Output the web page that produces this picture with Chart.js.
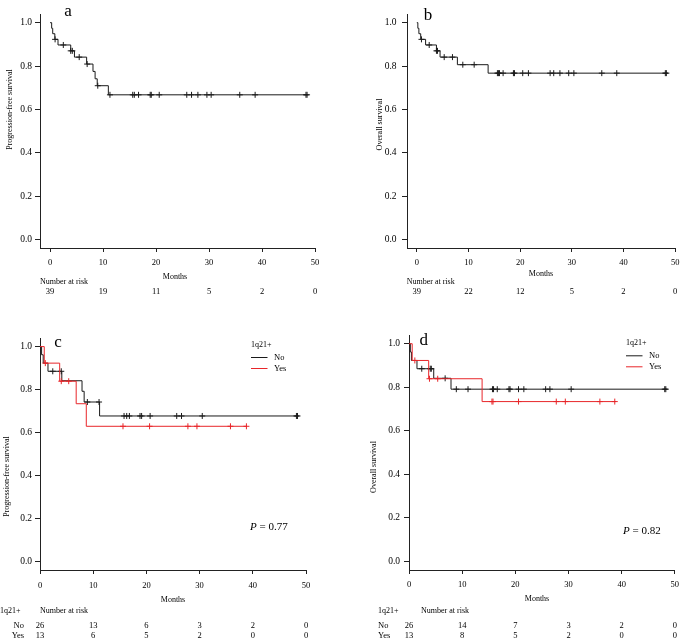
<!DOCTYPE html>
<html><head><meta charset="utf-8">
<script src="https://cdn.jsdelivr.net/npm/chart.js@4.4.0/dist/chart.umd.min.js"></script>
<style>
body{margin:0;background:#fff;width:685px;height:639px;position:relative;overflow:hidden}
canvas{position:absolute}
</style></head><body>
<canvas id="ca" width="340" height="320" style="left:0;top:0"></canvas>
<canvas id="cb" width="345" height="320" style="left:340px;top:0"></canvas>
<canvas id="cc" width="340" height="319" style="left:0;top:320px"></canvas>
<canvas id="cd" width="345" height="319" style="left:340px;top:320px"></canvas>
<script>
// ---------- data ----------
const xTickValues = [0, 10, 20, 30, 40, 50];
const yTickValues = [0, 0.2, 0.4, 0.6, 0.8, 1.0];
const riskTimes = [0, 10, 20, 30, 40, 50];

// Panel a: PFS, all patients
const pfsAllTimes  = [0, 0.3, 0.5, 0.9, 1.5, 3.9, 4.6, 6.9, 8.1, 8.5, 8.9, 11.0, 48.6];
const pfsAllSurv   = [1.0, 0.974, 0.949, 0.923, 0.897, 0.870, 0.841, 0.809, 0.775, 0.741, 0.709, 0.667, 0.667];
const pfsAllCensor = [0.95, 2.5, 3.9, 4.2, 5.5, 7.0, 9.0, 11.3, 15.6, 15.9, 16.7, 18.9, 19.1, 20.6, 25.8, 26.7, 27.9, 29.6, 30.4, 35.8, 38.7, 48.3, 48.5];
const pfsAllRisk   = [39, 19, 11, 5, 2, 0];

// Panel b: OS, all patients
const osAllTimes  = [0, 0.2, 0.4, 0.75, 1.7, 3.8, 4.5, 7.85, 13.8, 48.6];
const osAllSurv   = [1.0, 0.974, 0.949, 0.923, 0.897, 0.870, 0.841, 0.806, 0.767, 0.767];
const osAllCensor = [0.9, 2.4, 3.8, 4.0, 5.3, 6.9, 8.9, 11.1, 15.6, 15.8, 16.0, 16.7, 18.7, 18.9, 20.5, 21.6, 25.8, 26.5, 27.7, 29.4, 30.4, 35.8, 38.7, 48.1, 48.3];
const osAllRisk   = [39, 22, 12, 5, 2, 0];

// Panel c: PFS by 1q21+
const pfsNoTimes   = [0, 0.3, 0.6, 1.5, 4.1, 7.9, 8.3, 11.2, 48.6];
const pfsNoSurv    = [1.0, 0.962, 0.923, 0.885, 0.841, 0.792, 0.742, 0.677, 0.677];
const pfsNoCensor  = [2.4, 4.0, 8.9, 11.1, 15.8, 16.3, 16.8, 18.8, 19.1, 20.7, 25.7, 26.6, 30.5, 48.2, 48.4];
const pfsYesTimes  = [0, 0.8, 3.7, 6.8, 8.7, 38.9];
const pfsYesSurv   = [1.0, 0.923, 0.839, 0.734, 0.629, 0.629];
const pfsYesCensor = [1.0, 4.0, 5.4, 15.6, 20.6, 27.8, 29.5, 35.8, 38.8];
const pfsNoRisk    = [26, 13, 6, 3, 2, 0];
const pfsYesRisk   = [13, 6, 5, 2, 0, 0];
const pfsP = "0.77";

// Panel d: OS by 1q21+
const osNoTimes   = [0, 0.25, 0.45, 1.5, 4.65, 7.9, 48.6];
const osNoSurv    = [1.0, 0.962, 0.923, 0.885, 0.841, 0.791, 0.791];
const osNoCensor  = [2.4, 4.0, 4.2, 6.8, 8.9, 11.1, 15.7, 15.9, 16.6, 18.8, 19.0, 20.6, 21.6, 25.7, 26.5, 30.5, 48.1, 48.3];
const osYesTimes  = [0, 0.6, 3.7, 13.75, 38.9];
const osYesSurv   = [1.0, 0.923, 0.839, 0.734, 0.734];
const osYesCensor = [1.1, 3.85, 5.4, 15.6, 15.8, 20.6, 27.7, 29.4, 35.9, 38.7];
const osNoRisk    = [26, 14, 7, 3, 2, 0];
const osYesRisk   = [13, 8, 5, 2, 0, 0];
const osP = "0.82";

// ---------- rendering ----------
const FF = '"Liberation Serif", "Times New Roman", serif';
const BLACK = '#1a1a1a';
const RED = '#e8262a';
Chart.defaults.font.family = FF;
Chart.defaults.color = '#000';

function stepPoints(times, surv) { return times.map((t, i) => ({x: t, y: surv[i]})); }
function survAt(times, surv, t) {
  let s = surv[0];
  for (let i = 0; i < times.length; i++) { if (times[i] <= t) s = surv[i]; }
  return s;
}
function censorPoints(times, surv, cens) { return cens.map(t => ({x: t, y: survAt(times, surv, t)})); }

function curveSets(times, surv, cens, color) {
  return [
    {data: stepPoints(times, surv), showLine: true, stepped: 'before', borderColor: color, borderWidth: 1, pointRadius: 0, fill: false},
    {data: censorPoints(times, surv, cens), showLine: false, pointStyle: 'cross', pointRadius: 3, borderColor: color, borderWidth: 1, pointHoverRadius: 0}
  ];
}

function txt(ctx, s, x, y, o) {
  o = o || {};
  ctx.save();
  ctx.font = (o.style || '') + ' ' + (o.size || 8) + 'px ' + FF;
  ctx.textAlign = o.align || 'left';
  ctx.textBaseline = o.base || 'middle';
  ctx.fillStyle = '#000';
  if (o.rot) { ctx.translate(x, y); ctx.rotate(-Math.PI / 2); ctx.fillText(s, 0, 0); }
  else ctx.fillText(s, x, y);
  ctx.restore();
}

function makePanel(id, L, datasets, draw) {
  const axisColor = '#222';
  new Chart(document.getElementById(id), {
    type: 'scatter',
    data: {datasets: datasets},
    options: {
      responsive: false, animation: false, devicePixelRatio: 1,
      layout: {padding: L.pad},
      plugins: {legend: {display: false}, tooltip: {enabled: false}},
      scales: {
        x: {
          type: 'linear', min: L.xmin, max: 50,
          afterBuildTicks: s => { s.ticks = xTickValues.map(v => ({value: v})); },
          afterFit: s => { s.height = L.xH; },
          grid: {drawOnChartArea: false, drawTicks: true, tickLength: 4, color: axisColor, lineWidth: 1},
          border: {display: true, color: axisColor, width: 1},
          ticks: {autoSkip: false, maxRotation: 0, padding: L.xPad, font: {size: 8.5}, color: '#000', callback: v => String(v)}
        },
        y: {
          type: 'linear', min: -0.04, max: 1.04,
          afterBuildTicks: s => { s.ticks = yTickValues.map(v => ({value: v})); },
          afterFit: s => { s.width = L.yW; },
          grid: {drawOnChartArea: false, drawTicks: true, tickLength: 5, color: axisColor, lineWidth: 1},
          border: {display: true, color: axisColor, width: 1},
          ticks: {autoSkip: false, padding: L.yPad, font: {size: 9.5}, color: '#000', callback: v => v.toFixed(1)}
        }
      }
    },
    plugins: [{id: 'annot', afterDraw: chart => draw(chart, chart.ctx, chart.scales.x)}]
  });
}

function legend(ctx, L) {
  txt(ctx, '1q21+', L.lx, L.ly);
  ctx.save(); ctx.lineWidth = 1;
  ctx.strokeStyle = BLACK; ctx.beginPath(); ctx.moveTo(L.lx, L.ly + 12.5); ctx.lineTo(L.lx + 16.5, L.ly + 12.5); ctx.stroke();
  ctx.strokeStyle = RED; ctx.beginPath(); ctx.moveTo(L.lx, L.ly + 23.5); ctx.lineTo(L.lx + 16.5, L.ly + 23.5); ctx.stroke();
  ctx.restore();
  txt(ctx, 'No', L.lx + 23, L.ly + 12.5, {size: 8.5});
  txt(ctx, 'Yes', L.lx + 23, L.ly + 23.5, {size: 8.5});
}
function pval(ctx, p, x, y) {
  ctx.save(); ctx.font = 'italic 11px ' + FF; const w = ctx.measureText('P').width; ctx.restore();
  txt(ctx, 'P', x, y, {style: 'italic', size: 11});
  txt(ctx, ' = ' + p, x + w, y, {size: 11});
}

// Panel a
makePanel('ca', {pad: {left: 0, top: 14, right: 25, bottom: 0}, yW: 40, xH: 72, xmin: -1.9, xPad: 5.6, yPad: 3},
  curveSets(pfsAllTimes, pfsAllSurv, pfsAllCensor, BLACK),
  (c, ctx, x) => {
    txt(ctx, 'a', 68, 16, {size: 17, align: 'center', base: 'alphabetic'});
    txt(ctx, 'Progression-free survival', 10, 109.5, {rot: true, align: 'center'});
    txt(ctx, 'Months', 175, 277, {align: 'center'});
    txt(ctx, 'Number at risk', 40, 282.3);
    riskTimes.forEach((t, i) => txt(ctx, String(pfsAllRisk[i]), x.getPixelForValue(t), 291.3, {align: 'center', size: 8.5}));
  });

// Panel b
makePanel('cb', {pad: {left: 0, top: 14, right: 4, bottom: 0}, yW: 67, xH: 72, xmin: -1.9, xPad: 5.6, yPad: 5.5},
  curveSets(osAllTimes, osAllSurv, osAllCensor, BLACK),
  (c, ctx, x) => {
    txt(ctx, 'b', 88, 20, {size: 17, align: 'center', base: 'alphabetic'});
    txt(ctx, 'Overall survival', 40, 124.5, {rot: true, align: 'center'});
    txt(ctx, 'Months', 201, 274, {align: 'center'});
    txt(ctx, 'Number at risk', 66.7, 282.3);
    riskTimes.forEach((t, i) => txt(ctx, String(osAllRisk[i]), x.getPixelForValue(t), 291.3, {align: 'center', size: 8.5}));
  });

// Panel c
makePanel('cc', {pad: {left: 0, top: 18, right: 34, bottom: 0}, yW: 40, xH: 69, xmin: 0, xPad: 6.9, yPad: 3},
  curveSets(pfsYesTimes, pfsYesSurv, pfsYesCensor, RED).concat(curveSets(pfsNoTimes, pfsNoSurv, pfsNoCensor, BLACK)),
  (c, ctx, x) => {
    txt(ctx, 'c', 58, 27.3, {size: 17, align: 'center', base: 'alphabetic'});
    txt(ctx, 'Progression-free survival', 7, 156.5, {rot: true, align: 'center'});
    legend(ctx, {lx: 251, ly: 25});
    pval(ctx, pfsP, 250, 207);
    txt(ctx, 'Months', 173, 280, {align: 'center'});
    txt(ctx, '1q21+', 0, 291);
    txt(ctx, 'Number at risk', 40, 291);
    txt(ctx, 'No', 24, 306, {align: 'right', size: 8.5});
    txt(ctx, 'Yes', 24, 315.7, {align: 'right', size: 8.5});
    riskTimes.forEach((t, i) => {
      txt(ctx, String(pfsNoRisk[i]), x.getPixelForValue(t), 306, {align: 'center', size: 8.5});
      txt(ctx, String(pfsYesRisk[i]), x.getPixelForValue(t), 315.7, {align: 'center', size: 8.5});
    });
  });

// Panel d
makePanel('cd', {pad: {left: 0, top: 15, right: 7, bottom: 0}, yW: 69, xH: 69, xmin: 0, xPad: 5.9, yPad: 4},
  curveSets(osYesTimes, osYesSurv, osYesCensor, RED).concat(curveSets(osNoTimes, osNoSurv, osNoCensor, BLACK)),
  (c, ctx, x) => {
    txt(ctx, 'd', 83.7, 25, {size: 17, align: 'center', base: 'alphabetic'});
    txt(ctx, 'Overall survival', 34, 147, {rot: true, align: 'center'});
    legend(ctx, {lx: 286, ly: 23.3});
    pval(ctx, osP, 283, 211);
    txt(ctx, 'Months', 197, 279, {align: 'center'});
    txt(ctx, '1q21+', 38, 291);
    txt(ctx, 'Number at risk', 81, 291);
    txt(ctx, 'No', 38, 306, {size: 8.5});
    txt(ctx, 'Yes', 38, 315.7, {size: 8.5});
    riskTimes.forEach((t, i) => {
      txt(ctx, String(osNoRisk[i]), x.getPixelForValue(t), 306, {align: 'center', size: 8.5});
      txt(ctx, String(osYesRisk[i]), x.getPixelForValue(t), 315.7, {align: 'center', size: 8.5});
    });
  });
</script>
</body></html>
